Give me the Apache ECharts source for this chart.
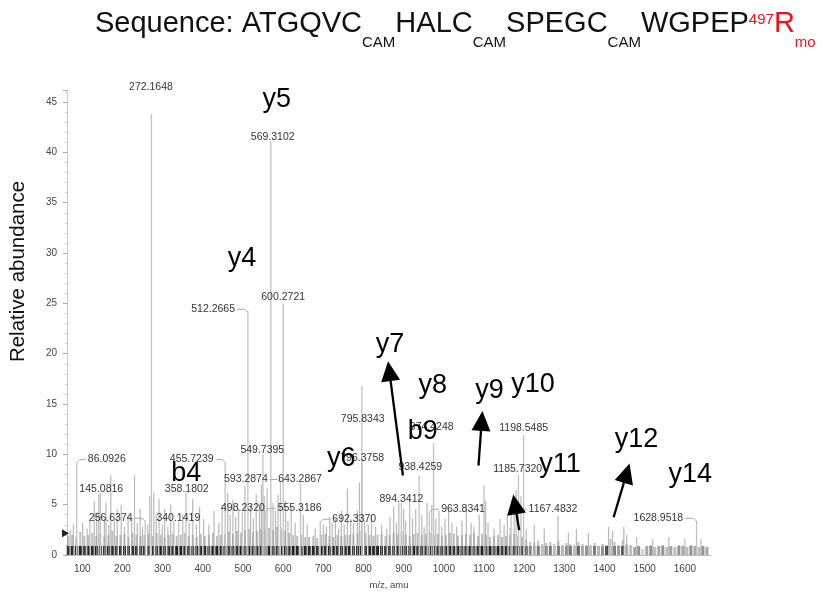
<!DOCTYPE html>
<html>
<head>
<meta charset="utf-8">
<script src="https://cdn.jsdelivr.net/npm/echarts@6/dist/echarts.min.js"></script>
<style>html,body{margin:0;padding:0;background:#fff}#c{width:823px;height:595px}</style>
</head>
<body>
<div id="c"></div>
<script>
// ---------------- DATA ----------------
const xMin = 62, xMax = 1665, yMax = 46.2;

// labelled peaks: label text, peak m/z, peak height, label anchor (m/z, abundance)
const peakLabels  = ['86.0926','145.0816','256.6374','272.1648','340.1419','358.1802','455.7239','498.2320','512.2665','549.7395','555.3186','569.3102','593.2874','600.2721','643.2867','692.3370','795.8343','796.3758','894.3412','938.4259','963.8341','974.4248','1167.4832','1185.7320','1198.5485','1628.9518'];
const peakMz      = [86.09, 145.08, 256.64, 272.16, 340.14, 358.18, 455.72, 498.23, 512.27, 549.74, 555.32, 569.31, 593.29, 600.27, 643.29, 692.34, 795.83, 796.38, 894.34, 938.43, 963.83, 974.42, 1167.48, 1185.73, 1198.55, 1628.95];
const peakHeight  = [9.1, 6.2, 3.3, 43.8, 3.3, 6.2, 9.0, 4.3, 24.2, 10.0, 4.3, 41.1, 7.3, 25.0, 7.2, 3.2, 16.8, 9.2, 5.2, 7.9, 4.0, 11.1, 4.2, 8.0, 11.9, 3.0];
const labelAtMz   = [161, 147.3, 170.8, 271, 339.1, 360.1, 372.5, 499.9, 425.7, 548.1, 640.9, 574.1, 507.3, 600.1, 642.1, 777, 798, 796.7, 894.4, 941.4, 1047.8, 969.9, 1271.7, 1183.9, 1198.7, 1534];
const labelAtY    = [9.48, 6.52, 3.65, 46.53, 3.65, 6.52, 9.48, 4.64, 24.41, 10.46, 4.64, 41.53, 7.5, 25.67, 7.5, 3.55, 13.52, 9.58, 5.53, 8.69, 4.54, 12.69, 4.54, 8.49, 12.64, 3.65];

// unlabelled medium peaks [m/z, height]
const minorPeaks = [[70,2.4],[78,3.0],[101,3.2],[112,2.6],[119,3.4],[130,5.4],[136,4.2],[141,6.0],[155,3.6],[159,5.2],[166,3.0],[171,7.9],[180,3.4],[187,4.6],[197,5.0],[205,2.8],[214,4.0],[223,3.6],[230,7.9],[237,3.2],[244,4.6],[250,2.8],[263,3.0],[268,5.8],[278,6.2],[284,4.0],[291,5.6],[299,3.0],[305,4.6],[313,2.8],[320,5.0],[328,3.4],[350,4.0],[366,3.2],[375,5.6],[384,3.0],[392,4.8],[402,3.6],[415,3.0],[428,4.4],[440,3.2],[448,5.0],[462,6.2],[468,4.0],[475,5.5],[482,3.8],[489,4.6],[505,6.8],[519,5.0],[526,3.6],[533,6.0],[541,4.8],[546,7.0],[553,5.8],[560,6.6],[575,5.2],[581,4.4],[587,6.0],[606,5.4],[612,3.4],[620,4.8],[630,3.2],[650,4.0],[660,3.0],[680,2.6],[700,3.0],[708,2.8],[716,3.8],[722,3.2],[730,3.6],[738,2.6],[745,4.4],[752,3.0],[760,6.6],[768,3.6],[775,3.2],[785,4.4],[790,7.2],[803,3.4],[812,3.0],[820,4.0],[830,2.8],[845,3.0],[858,2.6],[866,3.8],[875,4.8],[882,3.2],[888,5.2],[900,4.6],[905,3.4],[915,5.6],[922,3.6],[930,4.6],[945,4.0],[951,2.8],[958,5.2],[970,5.0],[980,3.6],[988,4.4],[995,2.8],[1003,3.6],[1012,4.6],[1020,3.2],[1032,2.8],[1045,3.4],[1056,4.8],[1068,3.2],[1075,2.8],[1088,4.0],[1100,6.9],[1104,5.4],[1110,3.2],[1125,2.6],[1140,3.6],[1150,3.0],[1158,4.0],[1165,2.7],[1175,5.2],[1180,6.4],[1192,5.8],[1205,2.6],[1225,3.0],[1250,2.6],[1284,3.9],[1310,2.2],[1330,2.6],[1360,2.2],[1410,2.8],[1420,2.4],[1448,2.8],[1455,2.0],[1480,1.8],[1520,1.6],[1560,1.8],[1600,1.6],[1640,1.6]];

// noise floor, 10 m/z bins from 60 to 1660: tallest noise line and darkness of the baseline band
const noiseStart = 60, noiseStep = 10, noiseFloor = 0.9;
const noiseHigh = [
 1.9,2.0,1.8,2.3,1.9,2.0,2.2,1.9,2.1,1.8,
 2.0,2.4,1.9,2.0,2.1,1.8,2.2,2.0,1.9,2.0,
 2.1,1.9,2.2,2.0,1.8,2.0,2.1,1.9,2.0,2.2,
 1.9,2.0,1.8,2.1,1.9,2.0,2.2,1.9,2.0,2.1,
 2.3,2.1,2.4,2.2,2.5,2.6,2.3,2.4,2.6,2.5,
 2.7,2.5,2.8,2.6,2.4,2.2,2.0,1.9,2.0,1.8,
 1.8,1.9,1.7,2.0,2.1,1.9,1.8,2.0,1.9,2.0,
 2.0,2.1,2.2,2.4,2.2,2.0,1.9,2.0,2.1,1.9,
 2.0,2.2,2.1,2.3,2.0,1.9,2.1,2.2,2.0,2.1,
 2.2,2.0,2.1,1.9,2.0,2.2,2.1,1.9,2.0,2.1,
 2.0,2.2,1.9,2.1,2.0,1.8,1.9,2.0,1.8,1.9,
 2.0,2.1,1.9,1.8,1.5,1.3,1.2,1.4,1.1,1.2,
 1.3,1.1,1.4,1.0,1.2,1.1,1.0,1.3,1.1,1.0,
 1.0,1.2,0.9,1.1,1.0,1.6,1.3,1.0,1.5,1.1,
 1.0,0.8,0.9,0.6,0.9,1.0,0.8,0.9,1.0,0.8,
 0.9,0.8,1.0,0.9,0.8,1.0,0.9,0.8,0.9,0.8];
const noiseDensity = [
 0.9,1,0.95,1,0.9,1,0.95,1,0.9,1,
 1,0.95,0.9,1,1,0.9,1,0.95,0.9,1,
 0.95,1,0.9,1,0.95,1,0.9,1,1,0.95,
 1,0.9,1,0.95,1,0.9,1,1,0.95,1,
 1,0.95,1,1,0.9,1,1,0.95,1,1,
 1,1,0.95,1,1,0.95,1,1,0.9,1,
 0.95,1,0.9,1,0.95,1,1,0.9,1,0.95,
 1,0.95,1,1,0.9,1,0.95,1,1,0.9,
 1,0.9,1,0.95,1,0.9,1,0.95,1,0.9,
 0.95,1,0.9,1,0.95,1,0.9,1,0.95,1,
 1,0.9,0.95,1,0.9,1,0.95,1,0.9,1,
 0.95,1,0.9,0.85,0.8,0.55,0.35,0.6,0.3,0.5,
 0.6,0.3,0.7,0.35,0.5,0.6,0.3,0.7,0.4,0.5,
 0.3,0.6,0.35,0.5,0.8,0.3,0.6,0.45,0.8,0.35,
 0.3,0.4,0.5,0.2,0.4,0.5,0.3,0.4,0.5,0.3,
 0.4,0.3,0.5,0.4,0.3,0.5,0.4,0.3,0.5,0.4];

// fragment-ion annotations
const fragNames = ['y4','y5','b4','y6','y7','y8','b9','y9','y10','y11','y12','y14'];
const fragAtMz  = [497.4, 584.0, 358.9, 744.8, 866.0, 972.4, 947.6, 1113.4, 1222.2, 1289.0, 1479.5, 1613.1];
const fragAtY   = [29.42, 45.21, 8.09, 9.58, 20.93, 16.88, 12.24, 16.29, 16.98, 8.98, 11.45, 8.0];
// arrows: tail (m/z, abundance) -> tip (m/z, abundance)
const arrows = [[898.2,7.90,861.1,19.25],[1086.2,8.88,1096.1,14.31],[1187.6,2.47,1172.8,6.02],[1422.6,3.75,1462.2,9.08]];
const thresholdLevel = 2.17;

// title pieces: [text, kind]  kind: m = main, s = subscript, p = superscript; red flag
const titlePieces = [
  ['Sequence: ATGQVC','m',false],['CAM','s',false],['HALC','m',false],['CAM','s',false],
  ['SPEGC','m',false],['CAM','s',false],['WGPEP','m',false],
  ['497','p',true],['R','m',true],['mo','s',true]];

// ---------------- CHART ----------------
const FF = '"Liberation Sans", Arial, Helvetica, sans-serif';
const labelFontSize = 10.5;
const mctx = document.createElement('canvas').getContext('2d');
function textW(t, size){ mctx.font = size + 'px ' + FF; return mctx.measureText(t).width; }

// title layout (pixel layout of the heading)
const titleStyle = {m: {size: 29, y: 23.5}, s: {size: 15, y: 43}, p: {size: 15, y: 20}};
let tx = 95;
const titleEls = titlePieces.map(([t, k, red]) => {
  const st = titleStyle[k];
  const el = {type: 'text', x: tx, y: st.y, style: {text: t, fontSize: st.size, fontFamily: FF, fill: red ? '#e8141c' : '#111', verticalAlign: 'middle', align: 'left'}};
  tx += textW(t, st.size);
  return el;
});

const peakColor = '#c2c2c2';
const chart = echarts.init(document.getElementById('c'), null, {renderer:'canvas'});

const labeledData = peakMz.map((m, i) => [m, peakHeight[i], labelAtMz[i], labelAtY[i]]);
const noiseData = noiseHigh.map((h, i) => [noiseStart + noiseStep * (i + 0.5), h, noiseDensity[i]]);
const fragData = fragAtMz.map((m, i) => [m, fragAtY[i]]);

chart.setOption({
  animation: false,
  backgroundColor: '#fff',
  graphic: titleEls,
  grid: {left: 63, right: 112, top: 90, bottom: 37},
  xAxis: {
    type: 'value', min: xMin, max: xMax, splitNumber: 16,
    axisLine: {show: true, lineStyle: {color: '#bbb'}},
    axisTick: {show: false}, splitLine: {show: false},
    axisLabel: {formatter: v => (v % 100 === 0 ? String(v) : ''), color: '#444', fontSize: 10, fontFamily: FF, margin: 9},
    name: 'm/z, amu', nameLocation: 'middle', nameGap: 25,
    nameTextStyle: {fontSize: 9.5, color: '#444', fontFamily: FF}
  },
  yAxis: {
    type: 'value', min: 0, max: yMax, interval: 5,
    axisLine: {show: true, lineStyle: {color: '#c8c8c8'}},
    axisTick: {show: true, length: 4, lineStyle: {color: '#aaa'}},
    minorTick: {show: true, splitNumber: 5, length: 2, lineStyle: {color: '#ccc'}},
    splitLine: {show: false},
    axisLabel: {formatter: v => (v % 5 === 0 ? String(v) : ''), color: '#444', fontSize: 10, fontFamily: FF, margin: 10},
    name: 'Relative abundance', nameLocation: 'middle', nameGap: 38,
    nameTextStyle: {fontSize: 20.5, color: '#111', fontFamily: FF, padding: [0, 0, 0, 102]}
  },
  series: [
    { // noise floor
      type: 'custom', coordinateSystem: 'cartesian2d', z: 1,
      data: noiseData, encode: {x: 0, y: 1},
      renderItem(params, api) {
        const m = api.value(0), h = api.value(1), d = api.value(2);
        const b = api.coord([m, 0]), f = api.coord([m, Math.min(h, noiseFloor)]), t = api.coord([m, h]);
        const ch = [{type: 'rect', shape: {x: b[0] - 1.5, y: f[1], width: 3, height: b[1] - f[1]}, style: {fill: 'rgba(35,35,35,' + d + ')'}}];
        if (h > noiseFloor) ch.push({type: 'rect', shape: {x: t[0] - 1, y: t[1], width: 2, height: f[1] - t[1]}, style: {fill: 'rgba(110,110,110,0.45)'}});
        return {type: 'group', children: ch};
      }
    },
    { // unlabelled peaks
      type: 'custom', coordinateSystem: 'cartesian2d', z: 2,
      data: minorPeaks, encode: {x: 0, y: 1},
      renderItem(params, api) {
        const b = api.coord([api.value(0), 0]), t = api.coord([api.value(0), api.value(1)]);
        return {type: 'line', shape: {x1: b[0], y1: b[1], x2: t[0], y2: t[1]}, style: {stroke: '#a0a0a0', lineWidth: 1.2, opacity: 0.75}};
      }
    },
    { // labelled peaks
      type: 'custom', coordinateSystem: 'cartesian2d', z: 3, clip: false,
      data: labeledData, encode: {x: [0, 2], y: [1, 3]},
      renderItem(params, api) {
        const i = params.dataIndex;
        const m = api.value(0), h = api.value(1);
        const b = api.coord([m, 0]), t = api.coord([m, h]), a = api.coord([api.value(2), api.value(3)]);
        const txt = peakLabels[i];
        const w = textW(txt, labelFontSize);
        const ch = [
          {type: 'line', shape: {x1: b[0], y1: b[1], x2: t[0], y2: t[1]}, style: {stroke: peakColor, lineWidth: 1.3}},
          {type: 'text', style: {text: txt, x: a[0], y: a[1], align: 'center', verticalAlign: 'middle', fontSize: labelFontSize, fontFamily: FF, fill: '#333'}, z2: 5}
        ];
        const dx = t[0] - a[0];
        if (Math.abs(dx) > w / 2 + 1) {
          const edge = a[0] + Math.sign(dx) * (w / 2 + 2);
          ch.push({type: 'polyline', shape: {points: [[edge, a[1]], [t[0] - Math.sign(dx) * 3, a[1]], [t[0], a[1] + 3], [t[0], t[1]]]}, style: {stroke: '#aaa', lineWidth: 1, fill: null}});
        }
        return {type: 'group', children: ch};
      }
    },
    { // fragment labels
      type: 'custom', coordinateSystem: 'cartesian2d', z: 6, clip: false,
      data: fragData, encode: {x: 0, y: 1},
      renderItem(params, api) {
        const p = api.coord([api.value(0), api.value(1)]);
        return {type: 'text', style: {text: fragNames[params.dataIndex], x: p[0], y: p[1], align: 'center', verticalAlign: 'middle', fontSize: 27, fontFamily: FF, fill: '#000'}};
      }
    },
    { // arrows
      type: 'custom', coordinateSystem: 'cartesian2d', z: 7, clip: false,
      data: arrows, encode: {x: [0, 2], y: [1, 3]},
      renderItem(params, api) {
        const p = api.coord([api.value(0), api.value(1)]), q = api.coord([api.value(2), api.value(3)]);
        const dx = q[0] - p[0], dy = q[1] - p[1], L = Math.hypot(dx, dy), ux = dx / L, uy = dy / L;
        const hl = 20, hw = 9.5;
        const bx = q[0] - ux * hl, by = q[1] - uy * hl;
        return {type: 'group', children: [
          {type: 'line', shape: {x1: p[0], y1: p[1], x2: bx + ux * 2, y2: by + uy * 2}, style: {stroke: '#000', lineWidth: 2.3}},
          {type: 'polygon', shape: {points: [[q[0], q[1]], [bx - uy * hw, by + ux * hw], [bx + uy * hw, by - ux * hw]]}, style: {fill: '#000'}}
        ]};
      }
    },
    { // threshold marker
      type: 'custom', coordinateSystem: 'cartesian2d', z: 8, clip: false,
      data: [[xMin, thresholdLevel]], encode: {x: 0, y: 1},
      renderItem(params, api) {
        const p = api.coord([api.value(0), api.value(1)]);
        return {type: 'polygon', shape: {points: [[p[0] - 5, p[1] - 4], [p[0] + 2, p[1]], [p[0] - 5, p[1] + 4]]}, style: {fill: '#222'}};
      }
    }
  ]
});
</script>
</body>
</html>
